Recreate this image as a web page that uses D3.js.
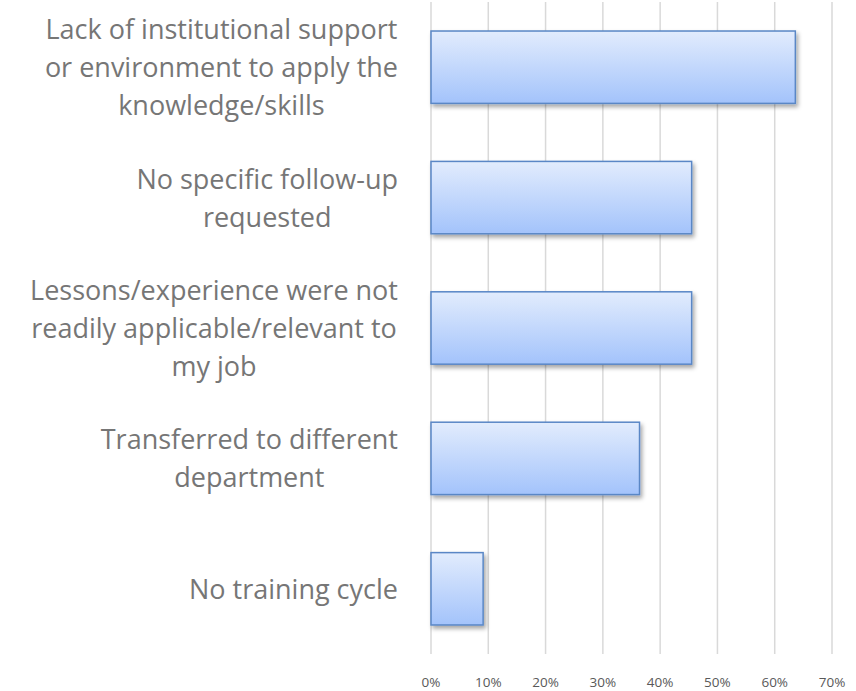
<!DOCTYPE html>
<html><head><meta charset="utf-8">
<script src="https://cdn.jsdelivr.net/npm/d3@7"></script>
<style>body{margin:0;background:#fff}</style>
</head><body>
<svg id="c" width="856" height="691"></svg>
<script>
const categories = [
  ["Lack of institutional support","or environment to apply the","knowledge/skills"],
  ["No specific follow-up","requested"],
  ["Lessons/experience were not","readily applicable/relevant to","my job"],
  ["Transferred to different","department"],
  ["No training cycle"]
];
const values = [63.6, 45.5, 45.5, 36.4, 9.1];
const ticks = [0,10,20,30,40,50,60,70];

const svg = d3.select("#c");
const m = {left:431, right:832, top:2, bottom:654};
const x = d3.scaleLinear().domain([0,70]).range([m.left, m.right]);
const y = d3.scaleBand().domain(d3.range(values.length)).range([m.top, m.bottom]).paddingInner(0.445).paddingOuter(0.2225);

const defs = svg.append("defs");
const g = defs.append("linearGradient").attr("id","bg").attr("x1",0).attr("y1",0).attr("x2",0).attr("y2",1);
g.append("stop").attr("offset","0%").attr("stop-color","#e2ecfd");
g.append("stop").attr("offset","100%").attr("stop-color","#a3c3fb");
const f = defs.append("filter").attr("id","sh").attr("x","-10%").attr("y","-10%").attr("width","130%").attr("height","140%");
f.append("feDropShadow").attr("dx",2).attr("dy",3).attr("stdDeviation",2).attr("flood-color","#000").attr("flood-opacity",0.35);

svg.append("g").selectAll("line").data(ticks).join("line")
  .attr("x1",d=>x(d)).attr("x2",d=>x(d)).attr("y1",m.top).attr("y2",m.bottom)
  .attr("stroke","#d9d9d9").attr("stroke-width",1.5);

svg.append("g").selectAll("rect").data(values).join("rect")
  .attr("x",x(0)).attr("y",(d,i)=>y(i)).attr("width",d=>x(d)-x(0)).attr("height",y.bandwidth())
  .attr("fill","url(#bg)").attr("stroke","#5a87c6").attr("stroke-width",1.5).attr("filter","url(#sh)");

svg.append("g").selectAll("text").data(ticks).join("text")
  .attr("x",d=>x(d)).attr("y",687).attr("text-anchor","middle")
  .attr("font-family","'Open Sans', sans-serif").attr("font-size",13.5).attr("fill","#595959")
  .text(d=>d+"%");

const lh = 38;
categories.forEach((lines,i)=>{
  const cy = y(i)+y.bandwidth()/2;
  const t = svg.append("text").attr("font-family","'Open Sans', sans-serif").attr("font-size",27).attr("fill","#767676").attr("text-anchor","middle");
  const ts = lines.map((l,j)=>t.append("tspan").attr("y", cy + (j-(lines.length-1)/2)*lh + 10).text(l));
  const w = d3.max(ts, s=>s.node().getComputedTextLength());
  ts.forEach(s=>s.attr("x", 398 - w/2));
});
</script>
</body></html>
